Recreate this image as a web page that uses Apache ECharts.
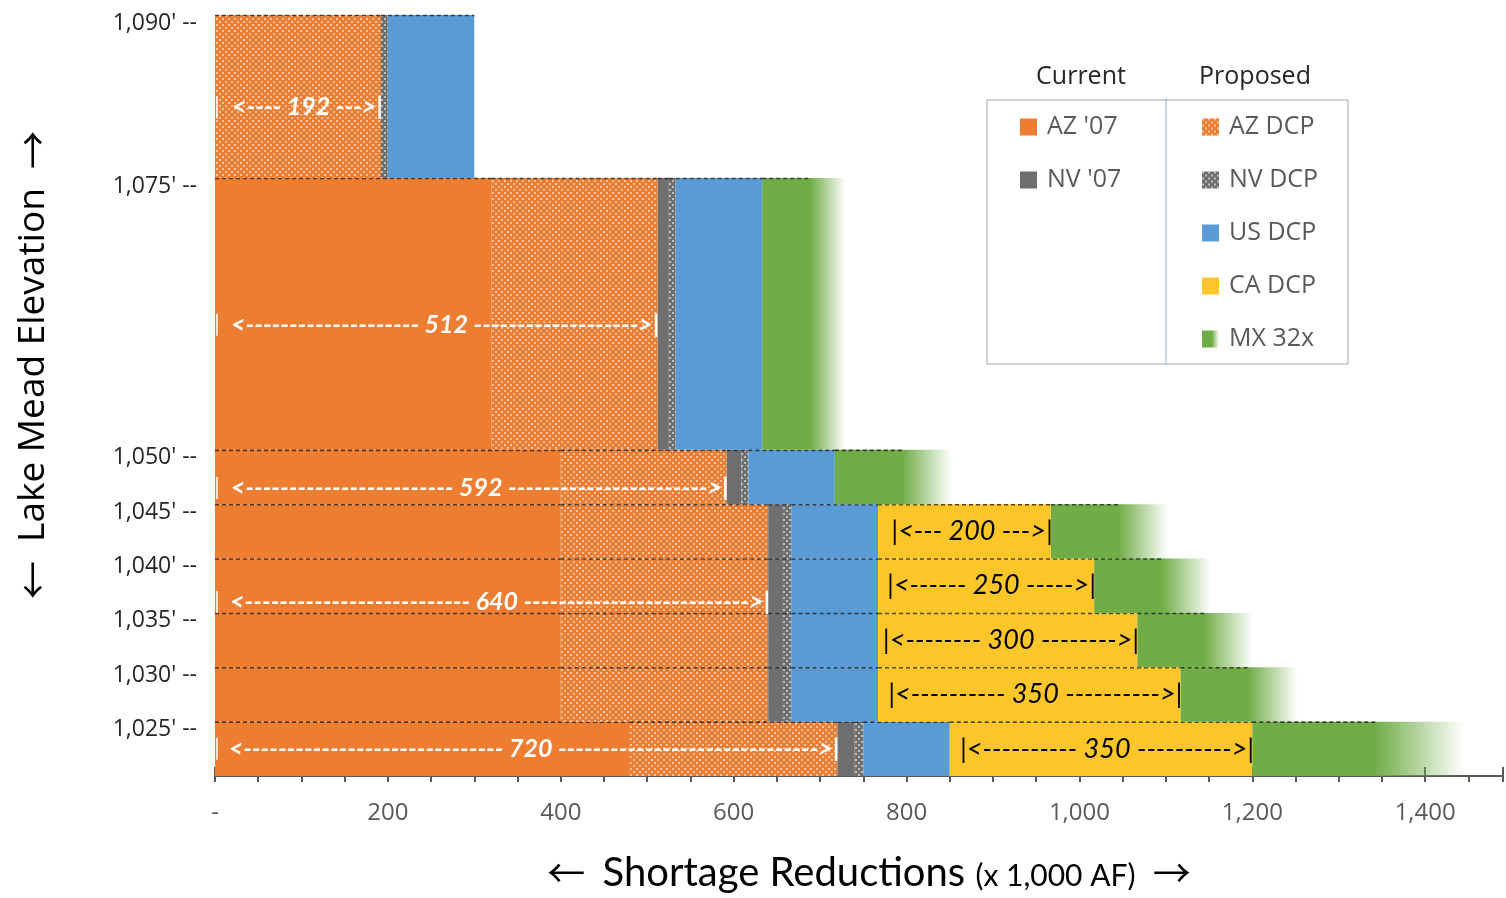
<!DOCTYPE html>
<html>
<head>
<meta charset="utf-8">
<script src="https://cdn.jsdelivr.net/npm/echarts@6/dist/echarts.min.js"></script>
<style>html,body{margin:0;padding:0;background:#fff}#c{width:1506px;height:898px}</style>
</head>
<body>
<div id="c"></div>
<script>
// ---------- DATA ----------
const bandTop    = [1090, 1075, 1050, 1045, 1040, 1035, 1030, 1025];
const bandBottom = [1075, 1050, 1045, 1040, 1035, 1030, 1025, 1020];
const az07   = [0, 320, 400, 400, 400, 400, 400, 480];
const azDcp  = [192, 192, 192, 240, 240, 240, 240, 240];
const nv07   = [0, 13, 17, 17, 17, 17, 17, 20];
const nvDcp  = [8, 8, 8, 10, 10, 10, 10, 10];
const usDcp  = [100, 100, 100, 100, 100, 100, 100, 100];
const caDcp  = [0, 0, 0, 200, 250, 300, 350, 350];
const mx32x  = [0, 96, 135, 135, 135, 133, 135, 245];
// AZ total annotations (elevation anchor, total)
const azLabelElev  = [1081.5, 1061.5, 1046.5, 1036, 1022.5];
const azLabelTotal = [192, 512, 592, 640, 720];
// tick labels
const yTickValues = [1090, 1075, 1050, 1045, 1040, 1035, 1030, 1025];
const xTickValues = [0, 200, 400, 600, 800, 1000, 1200, 1400];

// ---------- STYLE ----------
const ORANGE = '#ED7D31', GREY = '#706F6F', BLUE = '#5B9BD5', YELLOW = '#FFC62A', GREEN = '#70AD47';
function dotPattern(base) {
  const c = document.createElement('canvas');
  c.width = 6; c.height = 6;
  const g = c.getContext('2d');
  g.fillStyle = base; g.fillRect(0, 0, 6, 6);
  g.fillStyle = 'rgba(255,255,255,0.55)';
  g.fillRect(0, 0, 2, 2); g.fillRect(3, 3, 2, 2);
  return { image: c, repeat: 'repeat' };
}
const azPattern = dotPattern(ORANGE);
const nvPattern = dotPattern(GREY);
const FADE_AT = 0.58;
function greenFade() {
  return new echarts.graphic.LinearGradient(0, 0, 1, 0, [
    { offset: 0, color: GREEN },
    { offset: FADE_AT, color: GREEN },
    { offset: 1, color: 'rgba(112,173,71,0)' }
  ]);
}
function fmt(v) { return String(v).replace(/\B(?=(\d{3})+(?!\d))/g, ','); }

const cats = [
  { name: "AZ '07", vals: az07,  fill: ORANGE },
  { name: 'AZ DCP', vals: azDcp, fill: azPattern },
  { name: "NV '07", vals: nv07,  fill: GREY },
  { name: 'NV DCP', vals: nvDcp, fill: nvPattern },
  { name: 'US DCP', vals: usDcp, fill: BLUE },
  { name: 'CA DCP', vals: caDcp, fill: YELLOW },
  { name: 'MX 32x', vals: mx32x, fill: null, fade: true }
];

// stacked start/end per band
const cum = bandTop.map(() => 0);
const segSeries = cats.map(cat => {
  const data = [];
  cat.vals.forEach((v, i) => {
    const s = cum[i], e = cum[i] + v;
    cum[i] = e;
    if (v > 0) data.push([i, bandBottom[i], bandTop[i], s, e]);
  });
  return {
    type: 'custom', name: cat.name, silent: true,
    itemStyle: { color: cat.fade ? greenFade() : cat.fill },
    encode: { x: [3, 4], y: [1, 2] },
    data: data,
    z: 2,
    renderItem: function (params, api) {
      const lo = api.value(1), hi = api.value(2), s = api.value(3), e = api.value(4);
      const p0 = api.coord([s, hi]), p1 = api.coord([e, lo]);
      const w = p1[0] - p0[0], h = p1[1] - p0[1];
      const fill = cat.fade ? greenFade() : cat.fill;
      const lineEnd = p0[0] + w * (cat.fade ? FADE_AT : 1);
      return {
        type: 'group',
        children: [
          { type: 'rect', shape: { x: p0[0], y: p0[1], width: w, height: h }, style: { fill: fill } },
          { type: 'line', shape: { x1: p0[0], y1: p0[1] + 0.5, x2: lineEnd, y2: p0[1] + 0.5 },
            style: { stroke: 'rgba(25,25,25,0.75)', lineWidth: 1.6, lineDash: [4, 3] } }
        ]
      };
    }
  };
});

// label data
const azLabelData = azLabelElev.map((el, i) => [el, 0, azLabelTotal[i], azLabelTotal[i]]);
const caStart = bandTop.map((_, i) => az07[i] + azDcp[i] + nv07[i] + nvDcp[i] + usDcp[i]);
const caLabelData = [];
caDcp.forEach((v, i) => {
  if (v > 0) caLabelData.push([(bandTop[i] + bandBottom[i]) / 2, caStart[i], caStart[i] + v, v]);
});

const mctx = document.createElement('canvas').getContext('2d');
function tw(str, font) { mctx.font = font; return mctx.measureText(str).width; }

function labelSeries(data, white) {
  return {
    type: 'custom', silent: true, z: 10,
    encode: { x: [1, 2], y: 0 },
    data: data,
    renderItem: function (params, api) {
      const el = api.value(0), s = api.value(1), e = api.value(2), v = api.value(3);
      const y = api.coord([s, el])[1];
      const x0 = api.coord([s, el])[0], x1 = api.coord([e, el])[0];
      const font = white ? 'italic bold 25px Lato' : 'italic 27px Lato';
      const num = ' ' + v + ' ';
      const left = white ? '<' : '|<';
      const right = '>|';
      const avail = (x1 - x0) - (white ? 8 : 2);
      const n = Math.max(2, Math.floor((avail - tw(left, font) - tw(right, font) - tw(num, font)) / tw('-', font)));
      const l = Math.ceil(n / 2), r = n - l;
      const str = left + '-'.repeat(l) + num + '-'.repeat(r) + right;
      const children = [{
        type: 'text', x: x1 + 2, y: y,
        style: { text: str, font: font, fill: white ? '#fff' : '#000',
          textAlign: 'right', textVerticalAlign: 'middle', align: 'right', verticalAlign: 'middle' }
      }];
      if (white) {
        children.push({ type: 'rect', shape: { x: x0 + 1, y: y - 11, width: 2, height: 22 },
          style: { fill: 'rgba(255,255,255,0.75)' } });
      }
      return { type: 'group', children: children };
    }
  };
}

const chart = echarts.init(document.getElementById('c'));
const axisCommon = { type: 'value', min: 0, max: 1490, position: 'bottom', splitLine: { show: false } };
const tickStyle = { color: '#595959', width: 2 };
chart.setOption({
  animation: false,
  backgroundColor: '#fff',
  grid: { left: 215, top: 15, right: 0, height: 761 },
  xAxis: [
    Object.assign({}, axisCommon, {
      interval: 200,
      axisLine: { lineStyle: { color: '#595959', width: 2 } },
      axisTick: { show: true, length: 6, lineStyle: tickStyle },
      axisLabel: {
        margin: 25, fontSize: 24, color: '#595959', fontFamily: 'Open Sans',
        formatter: v => xTickValues.includes(v) ? (v === 0 ? '-' : fmt(v)) : ''
      },
      name: '{a|\u2190}{sp|  }{t|Shortage Reductions }{s|(x 1,000 AF)}{sp|  }{a|\u2192}',
      nameLocation: 'middle', nameGap: 74,
      nameTextStyle: {
        padding: [0, 0, 0, 20],
        rich: {
          a: { fontSize: 38, fontFamily: 'Noto Sans CJK JP', color: '#000', lineHeight: 46 },
          sp: { fontSize: 34, fontFamily: 'Lato', lineHeight: 46 },
          t: { fontSize: 40, fontFamily: 'Lato', color: '#000', lineHeight: 46 },
          s: { fontSize: 30, fontFamily: 'Lato', color: '#000', lineHeight: 46, padding: [6, 0, 0, 0] }
        }
      }
    }),
    Object.assign({}, axisCommon, {
      interval: 50,
      axisLine: { show: false },
      axisTick: { show: true, length: 6, lineStyle: tickStyle },
      axisLabel: { show: false }
    }),
    Object.assign({}, axisCommon, {
      interval: 200,
      axisLine: { show: false },
      axisTick: { show: true, inside: true, length: 9, lineStyle: tickStyle },
      axisLabel: { show: false }
    })
  ],
  yAxis: {
    type: 'value', min: 1020, max: 1090, interval: 5,
    axisLine: { show: false }, axisTick: { show: false }, splitLine: { show: false },
    axisLabel: {
      margin: 18, fontSize: 23, color: '#262626', fontFamily: 'Open Sans',
      verticalAlign: 'top', lineHeight: 16,
      formatter: v => yTickValues.includes(v) ? fmt(v) + "' --" : ''
    }
  },
  legend: [
    { left: 1020, top: 112, orient: 'vertical', padding: 0, itemWidth: 17, itemHeight: 17, itemGap: 23,
      icon: 'rect', selectedMode: false,
      textStyle: { fontSize: 25, fontFamily: 'Open Sans', color: '#595959', lineHeight: 30, padding: [0, 0, 0, 5] },
      data: ["AZ '07", "NV '07"] },
    { left: 1202, top: 112, orient: 'vertical', padding: 0, itemWidth: 17, itemHeight: 17, itemGap: 23,
      icon: 'rect', selectedMode: false,
      textStyle: { fontSize: 25, fontFamily: 'Open Sans', color: '#595959', lineHeight: 30, padding: [0, 0, 0, 5] },
      data: ['AZ DCP', 'NV DCP', 'US DCP', 'CA DCP', 'MX 32x'] }
  ],
  graphic: [
    { type: 'rect', z: 1, shape: { x: 987, y: 100, width: 361, height: 264 },
      style: { fill: '#fff', stroke: '#a6a6a6', lineWidth: 1 } },
    { type: 'line', z: 1, shape: { x1: 1166, y1: 98, x2: 1166, y2: 364 },
      style: { stroke: '#8eb4e3', lineWidth: 1 } },
    { type: 'text', z: 1, x: 1081, y: 77,
      style: { text: 'Current', font: '25px "Open Sans"', fill: '#262626',
        textAlign: 'center', textVerticalAlign: 'middle', align: 'center', verticalAlign: 'middle' } },
    { type: 'text', z: 1, x: 1255, y: 77,
      style: { text: 'Proposed', font: '25px "Open Sans"', fill: '#262626',
        textAlign: 'center', textVerticalAlign: 'middle', align: 'center', verticalAlign: 'middle' } },
    { type: 'text', z: 1, x: 33, y: 365, rotation: Math.PI / 2,
      style: { text: '{a|\u2190}{t|  Lake Mead Elevation  }{a|\u2192}', fill: '#000',
        rich: {
          a: { fontSize: 38, fontFamily: 'Noto Sans CJK JP', fill: '#000', color: '#000' },
          t: { fontSize: 37, fontFamily: 'Open Sans', fill: '#000', color: '#000' }
        },
        textAlign: 'center', textVerticalAlign: 'middle', align: 'center', verticalAlign: 'middle' } }
  ],
  series: segSeries.concat([labelSeries(azLabelData, true), labelSeries(caLabelData, false)])
});
</script>
</body>
</html>
